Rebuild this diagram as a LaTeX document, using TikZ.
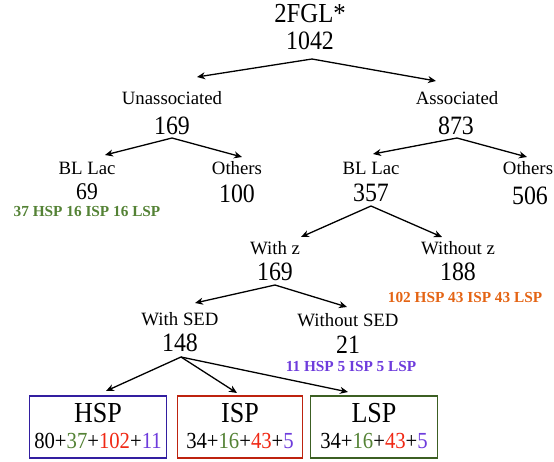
\documentclass[tikz,border=0pt]{standalone}
\usepackage{fontspec}
\usetikzlibrary{arrows.meta}
\setmainfont{Liberation Serif}
\newfontfamily\numf[FakeStretch=0.9]{Liberation Serif}
\definecolor{cgreen}{RGB}{84,130,53}
\definecolor{corange}{RGB}{228,100,20}
\definecolor{cpurple}{RGB}{110,60,220}
\definecolor{cred}{RGB}{240,40,20}
\definecolor{bblue}{RGB}{50,30,160}
\definecolor{bred}{RGB}{190,35,15}
\definecolor{bgreen}{RGB}{60,95,35}
\begin{document}
\begin{tikzpicture}[x=1pt,y=-1pt,
  lbl/.style={inner sep=0pt,anchor=center,font=\fontsize{18.8}{19}\selectfont},
  big/.style={inner sep=0pt,anchor=center,font=\numf\fontsize{26.5}{27}\selectfont},
  mid/.style={inner sep=0pt,anchor=center,font=\numf\fontsize{24}{24}\selectfont},
  boxn/.style={inner sep=0pt,anchor=center,font=\numf\fontsize{23}{23}\selectfont},
  sub/.style={inner sep=0pt,anchor=center,font=\fontsize{15.3}{15}\selectfont\bfseries},
  arr/.style={-{Stealth[length=8pt,width=7pt,inset=2.5pt]},line width=1.3pt},
  catbox/.style={draw,line width=1.6pt,minimum height=62pt,inner sep=0pt}]
\useasboundingbox (0,0) rectangle (554,461);
\node[big,font=\numf\fontsize{27.5}{28}\selectfont] (t1) at (310,14) {2FGL*};
\node[big] (t2) at (310,41) {1042};
\coordinate (s0) at (312,59);
\node[lbl] (ua) at (172,98) {Unassociated};
\node[big] (uan) at (172,126) {169};
\node[lbl] (as) at (457,98) {Associated};
\node[big] (asn) at (456,126) {873};
\coordinate (a1) at (197,77);
\coordinate (a2) at (436,81);
\draw[arr] (s0) -- (a1);
\draw[arr] (s0) -- (a2);
% unassociated children
\node[lbl] (ubl) at (87,168) {BL Lac};
\node[mid] (ubln) at (87,192) {69};
\node[sub,text=cgreen] (ublsub) at (87,212) {37 HSP 16 ISP 16 LSP};
\node[lbl] (uo) at (237,168) {Others};
\node[big] (uon) at (237,194) {100};
\coordinate (s1) at (172,138);
\coordinate (b1) at (105,155);
\coordinate (b2) at (242,157);
\draw[arr] (s1) -- (b1);
\draw[arr] (s1) -- (b2);
% associated children
\node[lbl] (abl) at (371,168) {BL Lac};
\node[big] (abln) at (371,193) {357};
\node[lbl] (ao) at (528,168) {Others};
\node[big] (aon) at (530,196) {506};
\coordinate (s2) at (457,138);
\coordinate (c1) at (373,154);
\coordinate (c2) at (527,157);
\draw[arr] (s2) -- (c1);
\draw[arr] (s2) -- (c2);
% with z
\node[lbl] (wz) at (275,248) {With z};
\node[big] (wzn) at (275,272) {169};
\node[lbl] (woz) at (458,248) {Without z};
\node[big] (wozn) at (458,272) {188};
\node[sub,text=corange] (wozsub) at (465,297) {102 HSP 43 ISP 43 LSP};
\coordinate (s3) at (371,206);
\coordinate (d1) at (301,237);
\coordinate (d2) at (442,237);
\draw[arr] (s3) -- (d1);
\draw[arr] (s3) -- (d2);
% with SED
\node[lbl] (ws) at (180,319) {With SED};
\node[big] (wsn) at (180,343) {148};
\node[lbl] (wos) at (348,320) {Without SED};
\node[big] (wosn) at (348,345) {21};
\node[sub,text=cpurple] (wossub) at (351,367) {11 HSP 5 ISP 5 LSP};
\coordinate (s4) at (275,285);
\coordinate (e1) at (195,303);
\coordinate (e2) at (347,307);
\draw[arr] (s4) -- (e1);
\draw[arr] (s4) -- (e2);
% boxes
\node[catbox,draw=bblue,minimum width=137pt] (hsp) at (98,427) {};
\node[catbox,draw=bred,minimum width=125pt] (isp) at (240,427) {};
\node[catbox,draw=bgreen,minimum width=127pt] (lsp) at (374,427) {};
\node[big,font=\numf\fontsize{29}{29}\selectfont] (hspt) at (98,413) {HSP};
\node[boxn] (hspn) at (98,441) {80+\textcolor{cgreen}{37}+\textcolor{cred}{102}+\textcolor{cpurple}{11}};
\node[big,font=\numf\fontsize{29}{29}\selectfont] (ispt) at (240,413) {ISP};
\node[boxn] (ispn) at (240,441) {34+\textcolor{cgreen}{16}+\textcolor{cred}{43}+\textcolor{cpurple}{5}};
\node[big,font=\numf\fontsize{29}{29}\selectfont] (lspt) at (374,413) {LSP};
\node[boxn] (lspn) at (374,441) {34+\textcolor{cgreen}{16}+\textcolor{cred}{43}+\textcolor{cpurple}{5}};
\coordinate (s5) at (181,357);
\coordinate (f1) at (106,391);
\coordinate (f2) at (237,393);
\coordinate (f3) at (348,392);
\draw[arr] (s5) -- (f1);
\draw[arr] (s5) -- (f2);
\draw[arr] (s5) -- (f3);
\end{tikzpicture}
\end{document}
